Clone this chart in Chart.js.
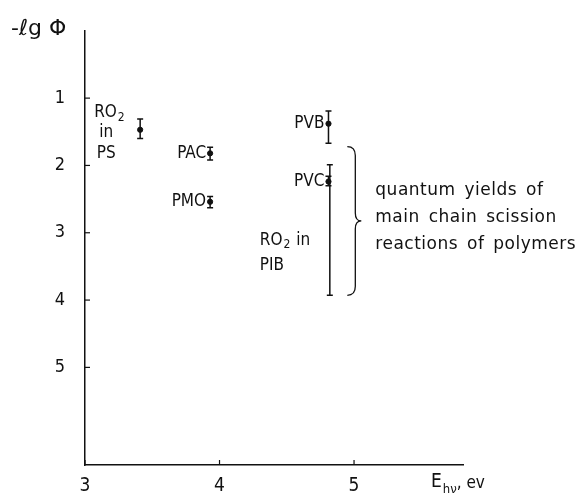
<!DOCTYPE html>
<html>
<head>
<meta charset="utf-8">
<script src="https://cdn.jsdelivr.net/npm/chart.js@4.4.1/dist/chart.umd.min.js"></script>
<style>
  html, body { margin: 0; padding: 0; background: #fff; }
  #wrap { width: 580px; height: 496px; }
</style>
</head>
<body>
<div id="wrap"><canvas id="yieldChart" width="580" height="496"></canvas></div>
<script>
'use strict';

// ============================================================
// DATA
// ============================================================
const polymers   = ['RO2 in PS', 'PAC', 'PMO', 'PVB', 'PVC', 'RO2 in PIB'];
const energyEv   = [3.41, 3.93, 3.93, 4.81, 4.81, 4.82];
const minusLgPhi = [1.47, 1.82, 2.54, 1.38, 2.24, null];
const errLow     = [1.31, 1.73, 2.46, 1.19, 2.16, 1.99];
const errHigh    = [1.60, 1.92, 2.63, 1.67, 2.30, 3.93];
const xTicks     = [3, 4, 5];
const yTicks     = [1, 2, 3, 4, 5];
const braceRange = [1.72, 3.93];
const braceAt    = 4.95;
const braceText  = ['quantum yields of', 'main chain scission', 'reactions of polymers'];

const INK = '#111';
const LABEL_FONT = '"DejaVu Sans Condensed", "Liberation Sans Narrow", "DejaVu Sans", sans-serif';

// ============================================================
// HELPERS
// ============================================================
// draws "RO" + subscript "2" + optional rest, left-aligned at x
function drawRO2(ctx, x, y, rest) {
  ctx.textAlign = 'left';
  ctx.font = '17px ' + LABEL_FONT;
  ctx.fillText('RO', x, y);
  let w = ctx.measureText('RO').width;
  ctx.font = '12px ' + LABEL_FONT;
  ctx.fillText('2', x + w + 1, y + 5);
  w += ctx.measureText('2').width + 1;
  if (rest) {
    ctx.font = '17px ' + LABEL_FONT;
    ctx.fillText(rest, x + w + 6, y);
  }
}

// ============================================================
// ANNOTATION PLUGIN (ticks, error bars, labels, brace, titles)
// ============================================================
const annotations = {
  id: 'annotations',
  afterDatasetsDraw(chart) {
    const { ctx, scales: { x: xs, y: ys }, chartArea: area } = chart;
    ctx.save();
    ctx.strokeStyle = INK;
    ctx.fillStyle = INK;
    ctx.lineCap = 'butt';

    // inner tick marks
    ctx.lineWidth = 1.2;
    yTicks.forEach(v => {
      const py = ys.getPixelForValue(v);
      ctx.beginPath(); ctx.moveTo(area.left, py); ctx.lineTo(area.left + 5, py); ctx.stroke();
    });
    xTicks.forEach(v => {
      const px = xs.getPixelForValue(v);
      ctx.beginPath(); ctx.moveTo(px, area.bottom); ctx.lineTo(px, area.bottom - 5); ctx.stroke();
    });

    // error bars
    ctx.lineWidth = 1.5;
    polymers.forEach((name, i) => {
      const px = xs.getPixelForValue(energyEv[i]);
      const y1 = ys.getPixelForValue(errLow[i]);
      const y2 = ys.getPixelForValue(errHigh[i]);
      ctx.beginPath();
      ctx.moveTo(px, y1); ctx.lineTo(px, y2);
      ctx.moveTo(px - 3, y1); ctx.lineTo(px + 3, y1);
      ctx.moveTo(px - 3, y2); ctx.lineTo(px + 3, y2);
      ctx.stroke();
    });

    // point labels
    ctx.textBaseline = 'middle';
    const pt = i => ({ x: xs.getPixelForValue(energyEv[i]), y: ys.getPixelForValue(minusLgPhi[i] ?? errHigh[i]) });

    let p = pt(0);
    drawRO2(ctx, p.x - 46, p.y - 17);
    ctx.font = '17px ' + LABEL_FONT;
    ctx.textAlign = 'center';
    ctx.fillText('in', p.x - 34, p.y + 3);
    ctx.fillText('PS', p.x - 34, p.y + 24);

    ctx.textAlign = 'right';
    [1, 2, 3, 4].forEach(i => {
      p = pt(i);
      ctx.fillText(polymers[i], p.x - 4, p.y);
    });

    p = pt(5);
    drawRO2(ctx, p.x - 70, p.y - 55, 'in');
    ctx.font = '17px ' + LABEL_FONT;
    ctx.textAlign = 'left';
    ctx.fillText('PIB', p.x - 70, p.y - 30);

    // brace
    const bx = xs.getPixelForValue(braceAt);
    const top = ys.getPixelForValue(braceRange[0]);
    const bot = ys.getPixelForValue(braceRange[1]);
    const mid = (top + bot) / 2;
    const sx = bx + 8, tx = bx + 14;
    ctx.lineWidth = 1.3;
    ctx.beginPath();
    ctx.moveTo(bx, top);
    ctx.quadraticCurveTo(sx, top, sx, top + 9);
    ctx.lineTo(sx, mid - 8);
    ctx.quadraticCurveTo(sx, mid, tx, mid);
    ctx.quadraticCurveTo(sx, mid, sx, mid + 8);
    ctx.lineTo(sx, bot - 9);
    ctx.quadraticCurveTo(sx, bot, bx, bot);
    ctx.stroke();

    ctx.font = '17px "DejaVu Sans", sans-serif';
    ctx.letterSpacing = '0.5px';
    ctx.wordSpacing = '3px';
    ctx.textAlign = 'left';
    braceText.forEach((line, k) => ctx.fillText(line, tx + 14, mid - 3 + (k - 1) * 27));
    ctx.letterSpacing = '0px';
    ctx.wordSpacing = '0px';

    // y axis title
    ctx.font = '22px "DejaVu Sans", sans-serif';
    ctx.fillText('-ℓg Φ', 11, 29);

    // x axis title
    const ex = area.right - 32;
    ctx.font = '19px ' + LABEL_FONT;
    ctx.fillText('E', ex, 482);
    let w = ctx.measureText('E').width;
    ctx.font = '13px ' + LABEL_FONT;
    ctx.fillText('hν', ex + w + 1, 490);
    w += ctx.measureText('hν').width + 1;
    ctx.font = '17px ' + LABEL_FONT;
    ctx.fillText(', ev', ex + w, 484);

    ctx.restore();
  }
};

// ============================================================
// CHART
// ============================================================
new Chart(document.getElementById('yieldChart'), {
  type: 'scatter',
  data: {
    labels: polymers,
    datasets: [{
      data: energyEv.map((e, i) => ({ x: e, y: minusLgPhi[i] })),
      backgroundColor: INK,
      borderColor: INK,
      pointRadius: 2.6,
      pointHoverRadius: 2.6,
    }]
  },
  options: {
    responsive: false,
    devicePixelRatio: 1,
    animation: false,
    layout: { padding: { top: 25, right: 117, left: 0, bottom: 0 } },
    plugins: { legend: { display: false }, tooltip: { enabled: false } },
    scales: {
      x: {
        type: 'linear', min: 3, max: 5.81,
        afterBuildTicks: s => { s.ticks = xTicks.map(v => ({ value: v })); },
        afterFit: s => { s.height = 31; },
        grid: { display: true, drawOnChartArea: false, drawTicks: false },
        border: { display: true, color: INK, width: 1.5 },
        ticks: { color: INK, padding: 10, font: { family: LABEL_FONT, size: 19 } },
      },
      y: {
        type: 'linear', reverse: true, min: 0, max: 6.45,
        afterBuildTicks: s => { s.ticks = yTicks.map(v => ({ value: v })); },
        afterFit: s => { s.width = 85; },
        grid: { display: true, drawOnChartArea: false, drawTicks: false },
        border: { display: true, color: INK, width: 1.5 },
        ticks: { color: INK, padding: 20, font: { family: LABEL_FONT, size: 18 } },
      }
    }
  },
  plugins: [annotations]
});
</script>
</body>
</html>
